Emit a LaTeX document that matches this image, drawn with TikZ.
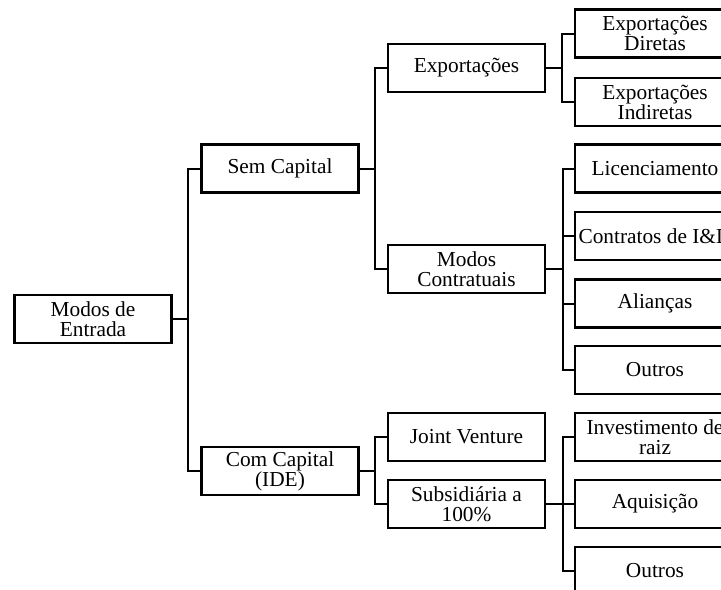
\documentclass[tikz,border=0pt]{standalone}
\usepackage{fontspec}
\setmainfont{Liberation Serif}
\begin{document}
\begin{tikzpicture}[x=0.75pt,y=-0.75pt,
  box/.style={draw=black,line width=1.6pt,fill=white,align=center,inner sep=0pt,
    minimum width=117.75pt,minimum height=36pt,font=\fontsize{16}{15}\selectfont},
  leaf/.style={box,minimum width=120pt},
  conn/.style={draw=black,line width=1.5pt}]
\useasboundingbox (0,0) rectangle (721,589);
\clip (0,0) rectangle (721,589);
\fill[white] (0,0) rectangle (721,589);
% level 0
\node[box] (root) at (93,319) {Modos de\\Entrada};
% level 1
\node[box] (sem) at (280,168.5) {Sem Capital};
\node[box] (com) at (280,471) {Com Capital\\(IDE)};
% level 2
\node[box] (exp) at (466.5,68) {Exportações};
\node[box] (mc) at (466.5,269) {Modos\\Contratuais};
\node[box] (jv) at (466.5,437) {Joint Venture};
\node[box] (sub) at (466.5,504) {Subsidiária a\\100\%};
% level 3
\node[leaf] (ed) at (655,33.5) {Exportações\\Diretas};
\node[leaf] (ei) at (655,102) {Exportações\\Indiretas};
\node[leaf] (lic) at (655,168.5) {Licenciamento};
\node[leaf] (cid) at (655,236) {Contratos de I\&D};
\node[leaf] (ali) at (655,303.5) {Alianças};
\node[leaf] (out1) at (655,370) {Outros};
\node[leaf] (inv) at (655,437) {Investimento de\\raiz};
\node[leaf] (aqu) at (655,504) {Aquisição};
\node[leaf] (out2) at (655,571) {Outros};
% connectors
\path[conn] (root.east) -- ++(15,0) |- (sem.west);
\path[conn] (root.east) -- ++(15,0) |- (com.west);
\path[conn] (sem.east) -- ++(15,0) |- (exp.west);
\path[conn] (sem.east) -- ++(15,0) |- (mc.west);
\path[conn] (com.east) -- ++(15,0) |- (jv.west);
\path[conn] (com.east) -- ++(15,0) |- (sub.west);
\path[conn] (exp.east) -- ++(16,0) |- (ed.west);
\path[conn] (exp.east) -- ++(16,0) |- (ei.west);
\path[conn] (mc.east) -- ++(17,0) |- (lic.west);
\path[conn] (mc.east) -- ++(17,0) |- (cid.west);
\path[conn] (mc.east) -- ++(17,0) |- (ali.west);
\path[conn] (mc.east) -- ++(17,0) |- (out1.west);
\path[conn] (sub.east) -- ++(17,0) |- (inv.west);
\path[conn] (sub.east) -- ++(17,0) |- (aqu.west);
\path[conn] (sub.east) -- ++(17,0) |- (out2.west);
\end{tikzpicture}
\end{document}
